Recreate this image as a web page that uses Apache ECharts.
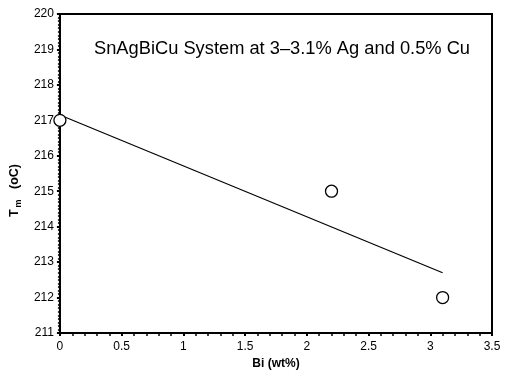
<!DOCTYPE html>
<html><head><meta charset="utf-8">
<script src="https://cdn.jsdelivr.net/npm/echarts@6/dist/echarts.min.js"></script>
<style>html,body{margin:0;padding:0;background:#fff}#c{width:507px;height:381px}</style>
</head><body><div id="c"></div>
<script>
const biWt = [0, 2.2, 3.1];
const meltT = [217, 215, 212];
const trendX = [0, 3.1];
const trendY = [217.15, 212.7];
const titleText = 'SnAgBiCu System at 3\u20133.1% Ag and 0.5% Cu';
const xName = 'Bi (wt%)';

const chart = echarts.init(document.getElementById('c'));
chart.setOption({
  animation: false,
  backgroundColor: '#fff',
  title: {
    text: titleText, left: 89, top: 35,
    textStyle: {fontFamily: 'Liberation Sans, Arial', fontSize: 18.3, fontWeight: 'normal', color: '#000'}
  },
  grid: {left: 57, right: 15, top: 14, bottom: 48, show: true, borderColor: '#000', borderWidth: 2},
  xAxis: {
    type: 'value', min: 0, max: 3.5, interval: 0.5,
    name: xName, nameLocation: 'middle', nameGap: 22,
    nameTextStyle: {fontFamily: 'Liberation Sans, Arial', fontSize: 12, fontWeight: 'bold', color: '#000'},
    axisLine: {lineStyle: {color: '#000', width: 2}},
    axisTick: {show: true, inside: false, length: 3, lineStyle: {color: '#000', width: 2}},
    minorTick: {show: true, splitNumber: 5, length: 3, lineStyle: {color: '#000', width: 1.5}},
    axisLabel: {fontFamily: 'Liberation Sans, Arial', fontSize: 12, color: '#000', margin: 8},
    splitLine: {show: false}
  },
  yAxis: {
    type: 'value', min: 211, max: 220, interval: 1,
    name: '{t|T}{s|m}{t|   (oC)}', nameLocation: 'middle', nameGap: 36, nameRotate: 90,
    nameTextStyle: {
      padding: [0, 34, 0, 0],
      rich: {
        t: {fontFamily: 'Liberation Sans, Arial', fontSize: 12.5, fontWeight: 'bold', color: '#000'},
        s: {fontFamily: 'Liberation Sans, Arial', fontSize: 9, fontWeight: 'bold', color: '#000', padding: [8, 0, 0, 2]}
      }
    },
    axisLine: {lineStyle: {color: '#000', width: 2}},
    axisTick: {show: true, inside: false, length: 3, lineStyle: {color: '#000', width: 2}},
    minorTick: {show: true, splitNumber: 10, length: 2, lineStyle: {color: '#000', width: 1.5}},
    axisLabel: {fontFamily: 'Liberation Sans, Arial', fontSize: 12, color: '#000', margin: 6},
    splitLine: {show: false}
  },
  series: [
    {
      type: 'line', data: trendX.map((x, i) => [x, trendY[i]]),
      symbol: 'none', lineStyle: {color: '#000', width: 1.2}, z: 5
    },
    {
      type: 'scatter', data: biWt.map((x, i) => [x, meltT[i]]), clip: false,
      symbol: 'circle', symbolSize: 12,
      itemStyle: {color: '#fff', borderColor: '#000', borderWidth: 1.3, opacity: 1}, z: 10
    }
  ]
});
</script></body></html>
